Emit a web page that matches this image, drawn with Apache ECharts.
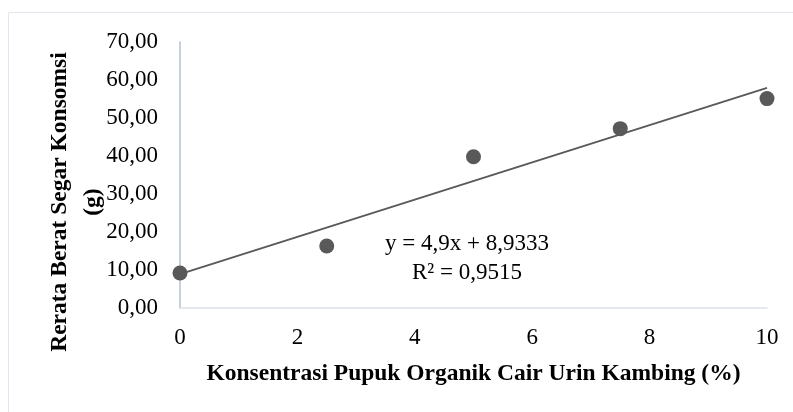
<!DOCTYPE html>
<html>
<head>
<meta charset="utf-8">
<script src="https://cdn.jsdelivr.net/npm/echarts@6/dist/echarts.min.js"></script>
<style>
  html, body { margin: 0; padding: 0; background: #fff; }
  #main { width: 793px; height: 412px; }
</style>
</head>
<body>
<div id="main"></div>
<script>
// data
var konsentrasi = [0, 2.5, 5, 7.5, 10]
var beratSegar = [9.2, 16.3, 39.8, 47.2, 55.1]
// linear trendline ends, from y = 4,9x + 8,9333
var trendX = [0, 10]
var trendY = [8.9333, 57.9333]
var yTicks = [0, 10, 20, 30, 40, 50, 60, 70]
var xTicks = [0, 2, 4, 6, 8, 10]

var font = 'Liberation Serif, Times New Roman, serif'
var chartDom = document.getElementById('main')
var myChart = echarts.init(chartDom)

var points = konsentrasi.map(function (x, i) { return [x, beratSegar[i]] })
var trend = trendX.map(function (x, i) { return [x, trendY[i]] })

var option = {
  animation: false,
  grid: { left: 180, right: 26, top: 42, bottom: 104 },
  xAxis: {
    type: 'value',
    min: xTicks[0],
    max: xTicks[xTicks.length - 1],
    interval: 2,
    name: 'Konsentrasi Pupuk Organik Cair Urin Kambing (%)',
    nameLocation: 'middle',
    nameGap: 54,
    nameTextStyle: { fontFamily: font, fontSize: 23.5, fontWeight: 'bold', color: '#000' },
    axisLine: { show: true, lineStyle: { color: '#dde1e8', width: 1.5 } },
    axisTick: { show: false },
    splitLine: { show: false },
    axisLabel: { fontFamily: font, fontSize: 23, color: '#000', margin: 18 }
  },
  yAxis: {
    type: 'value',
    min: yTicks[0],
    max: yTicks[yTicks.length - 1],
    interval: 10,
    axisLine: { show: true, lineStyle: { color: '#b4c0d2', width: 1.5 } },
    axisTick: { show: false },
    splitLine: { show: false },
    axisLabel: {
      fontFamily: font,
      fontSize: 23,
      color: '#000',
      margin: 22,
      formatter: function (v) { return v.toFixed(2).replace('.', ',') }
    }
  },
  graphic: [
    {
      type: 'rect',
      shape: { x: 8.5, y: 12.5, width: 800, height: 420 },
      style: { fill: 'none', stroke: '#e3e7ed', lineWidth: 1 },
      silent: true
    },
    {
      type: 'text',
      x: 43,
      y: 202,
      rotation: Math.PI / 2,
      style: {
        text: 'Rerata Berat Segar Konsomsi\n(g)',
        font: 'bold 23.5px ' + font,
        fill: '#000',
        align: 'center',
        verticalAlign: 'top',
        lineHeight: 33
      }
    },
    {
      type: 'text',
      x: 467,
      y: 229,
      style: {
        text: 'y = 4,9x + 8,9333\nR² = 0,9515',
        font: '23px ' + font,
        fill: '#000',
        align: 'center',
        verticalAlign: 'top',
        lineHeight: 29
      }
    }
  ],
  series: [
    {
      name: 'Trendline',
      type: 'line',
      data: trend,
      symbol: 'none',
      lineStyle: { color: '#595959', width: 1.8 },
      z: 2
    },
    {
      name: 'Rerata',
      type: 'scatter',
      data: points,
      symbolSize: 15,
      itemStyle: { color: '#595959', opacity: 1 },
      z: 3
    }
  ]
}
option && myChart.setOption(option)
</script>
</body>
</html>
